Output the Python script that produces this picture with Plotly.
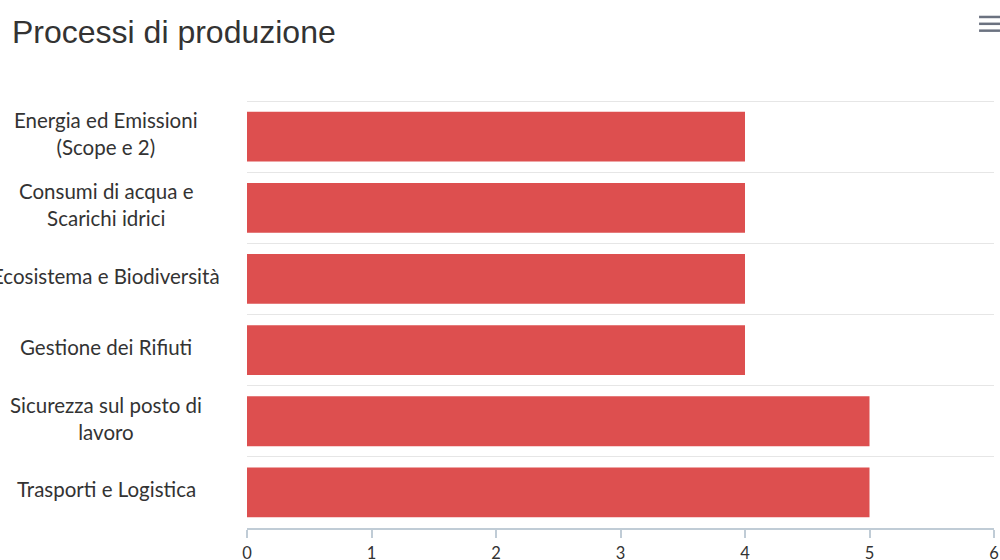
import plotly.graph_objects as go

categories = [
    "Energia ed Emissioni<br>(Scope e 2)",
    "Consumi di acqua e<br>Scarichi idrici",
    "Ecosistema e Biodiversità",
    "Gestione dei Rifiuti",
    "Sicurezza sul posto di<br>lavoro",
    "Trasporti e Logistica",
]
values = [4, 4, 4, 4, 5, 5]
x_ticks = [0, 1, 2, 3, 4, 5, 6]

BAR = "#dd4f4f"
LABEL_FONT = "Lato, 'Open Sans', sans-serif"

fig = go.Figure(go.Bar(
    x=values, y=categories, orientation="h",
    marker=dict(color=BAR, line=dict(width=0)),
    width=0.7, hoverinfo="x+y",
))

annotations = [
    dict(text=c, x=-0.1885, y=c, xref="paper", yref="y", xanchor="center",
         yanchor="middle", align="center", showarrow=False, yshift=3,
         font=dict(family=LABEL_FONT, size=20.5, color="#333333"))
    for c in categories
]

fig.update_layout(
    width=1000, height=560,
    margin=dict(l=247, r=6, t=100, b=32, autoexpand=False),
    paper_bgcolor="white", plot_bgcolor="white",
    showlegend=False, bargap=0.3,
    title=dict(text="Processi di produzione", x=0.012, xanchor="left",
               y=0.943, yanchor="middle",
               font=dict(family="Liberation Sans, Arial, sans-serif", size=32, color="#333333")),
    xaxis=dict(range=[0, 6], tickvals=x_ticks, ticktext=[str(t) for t in x_ticks],
               automargin=False,
               showgrid=False, zeroline=False, showline=True, linecolor="#c0ccd6",
               linewidth=2, ticks="outside", ticklen=8, tickcolor="#c0ccd6",
               tickwidth=2, ticklabelstandoff=1,
               tickfont=dict(family=LABEL_FONT, size=16.5, color="#333333")),
    yaxis=dict(range=[5.5, -0.515], type="category", tickson="boundaries",
               automargin=False,
               showgrid=True, gridcolor="#e6e6e6", gridwidth=1,
               showticklabels=False, ticks="", zeroline=False, showline=False),
    annotations=annotations,
    shapes=[
        dict(type="line", xref="paper", yref="paper", x0=0.980, x1=1.008,
             y0=yy, y1=yy, line=dict(color="#6b7280", width=2.5))
        for yy in [1.194, 1.178, 1.162]
    ],
)

fig.write_html("out.html", config={"displayModeBar": False},
               post_script="document.body.style.margin='0';document.body.style.overflow='hidden';")
